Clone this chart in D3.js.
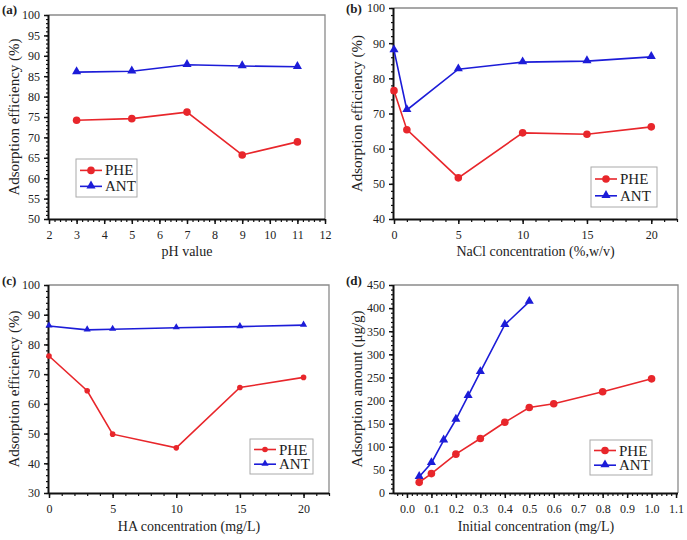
<!DOCTYPE html>
<html><head><meta charset="utf-8">
<script src="https://cdn.jsdelivr.net/npm/d3@7"></script>
<style>body{margin:0;background:#fff}svg{display:block}text{font-family:"Liberation Serif","Times New Roman",serif;fill:#222}</style>
</head><body><svg id="c" width="687" height="540"></svg>
<script>
// Panel (a): pH
const phX = [3, 5, 7, 9, 11];
const phPHE = [74.2, 74.6, 76.2, 65.7, 68.9];
const phANT = [86.0, 86.2, 87.8, 87.5, 87.3];
const phXTicks = [2,3,4,5,6,7,8,9,10,11,12];
const phYTicks = [50,55,60,65,70,75,80,85,90,95,100];
// Panel (b): NaCl
const naclX = [0, 1, 5, 10, 15, 20];
const naclPHE = [76.5, 65.4, 51.7, 64.5, 64.1, 66.2];
const naclANT = [88.0, 71.0, 82.6, 84.6, 84.9, 86.1];
const naclXTicks = [0,5,10,15,20];
const naclYTicks = [40,50,60,70,80,90,100];
// Panel (c): HA
const haX = [0, 3, 5, 10, 15, 20];
const haPHE = [76.1, 64.4, 49.8, 45.2, 65.5, 68.9];
const haANT = [86.2, 84.9, 85.1, 85.6, 86.0, 86.5];
const haXTicks = [0,5,10,15,20];
const haYTicks = [30,40,50,60,70,80,90,100];
// Panel (d): initial concentration
const icXPHE = [0.05, 0.1, 0.2, 0.3, 0.4, 0.5, 0.6, 0.8, 1.0];
const icPHE = [23, 42, 84, 118, 153, 185, 193, 219, 247];
const icXANT = [0.05, 0.1, 0.15, 0.2, 0.25, 0.3, 0.4, 0.5];
const icANT = [35, 65, 114, 159, 210, 262, 364, 414];
const icXTicks = [0,0.1,0.2,0.3,0.4,0.5,0.6,0.7,0.8,0.9,1.0,1.1];
const icYTicks = [0,50,100,150,200,250,300,350,400,450];
const seriesNames = ["PHE", "ANT"];

const RED = "#e8262b", BLUE = "#1c1cd8";
const svg = d3.select("#c");

function range(a, b, s) { const out = []; for (let v = a; v <= b + 1e-9; v += s) out.push(+v.toFixed(4)); return out; }

function panel(o) {
  const g = svg.append("g");
  const x = d3.scaleLinear().domain(o.xd).range([o.l, o.r]);
  const y = d3.scaleLinear().domain(o.yd).range([o.b, o.t]);
  g.append("path").attr("d", `M${o.l},${o.t}H${o.r}V${o.b}`).attr("fill","none").attr("stroke","#8a8a8a").attr("stroke-width",1.3);
  const xm = g.append("g").attr("transform",`translate(0,${o.b})`).call(d3.axisBottom(x).tickValues(o.xMinor).tickSize(3).tickFormat(""));
  const ym = g.append("g").attr("transform",`translate(${o.l},0)`).call(d3.axisLeft(y).tickValues(o.yMinor).tickSize(3).tickFormat(""));
  [xm, ym].forEach(a => { a.select(".domain").remove(); a.selectAll("line").attr("stroke","#111").attr("stroke-width",1.2); });
  const xa = g.append("g").attr("transform",`translate(0,${o.b})`).call(d3.axisBottom(x).tickValues(o.xTicks).tickSize(5).tickSizeOuter(0).tickPadding(6).tickFormat(o.xf || d3.format("d")));
  const ya = g.append("g").attr("transform",`translate(${o.l},0)`).call(d3.axisLeft(y).tickValues(o.yTicks).tickSize(5).tickSizeOuter(0).tickPadding(4).tickFormat(d3.format("d")));
  [xa, ya].forEach(a => {
    a.select(".domain").attr("stroke","#111").attr("stroke-width",2);
    a.selectAll("line").attr("stroke","#111").attr("stroke-width",1.5);
    a.selectAll("text").attr("font-size",12).attr("fill","#333").style("font-family","'Liberation Serif',serif");
  });
  xa.select(".domain").attr("d", `M${o.l},0.5H${o.r}`);
  ya.select(".domain").attr("d", `M-0.5,${o.b}V${o.t}`);
  g.append("text").attr("x",(o.l+o.r)/2).attr("y",o.xtY).attr("text-anchor","middle").attr("font-size",14).text(o.xt);
  g.append("text").attr("transform",`translate(${o.ytX},${(o.t+o.b)/2}) rotate(-90)`).attr("text-anchor","middle").attr("font-size",15).text(o.yt);
  g.append("text").attr("x",o.lblX).attr("y",o.lblY).attr("font-size",13).attr("font-weight","bold").text(o.lbl);
  const line = d3.line().x(d => x(d[0])).y(d => y(d[1]));
  const tri = d3.symbol().type(d3.symbolTriangle).size(o.triSize || 36);
  const a1 = o.sx[1].map((v,i)=>[v,o.sy[1][i]]);
  const a0 = o.sx[0].map((v,i)=>[v,o.sy[0][i]]);
  g.append("path").datum(a1).attr("d",line).attr("fill","none").attr("stroke",BLUE).attr("stroke-width",1.6);
  g.selectAll(".t").data(a1).join("path").attr("d",tri).attr("fill",BLUE).attr("transform",d=>`translate(${x(d[0])},${y(d[1])-0.5})`);
  g.append("path").datum(a0).attr("d",line).attr("fill","none").attr("stroke",RED).attr("stroke-width",1.6);
  g.selectAll(".c").data(a0).join("circle").attr("cx",d=>x(d[0])).attr("cy",d=>y(d[1])).attr("r",o.cr || 3.8).attr("fill",RED);
  const L = o.leg;
  g.append("rect").attr("x",L[0]).attr("y",L[1]).attr("width",L[2]).attr("height",L[3]).attr("fill","#fff").attr("stroke","#aaa").attr("stroke-width",1);
  [RED, BLUE].forEach((c, i) => {
    const yy = L[1] + L[3]*(i === 0 ? 0.3 : 0.72);
    g.append("line").attr("x1",L[0]+4).attr("x2",L[0]+26).attr("y1",yy).attr("y2",yy).attr("stroke",c).attr("stroke-width",1.6);
    if (i === 0) g.append("circle").attr("cx",L[0]+15).attr("cy",yy).attr("r",o.cr || 3.8).attr("fill",c);
    else g.append("path").attr("d",tri).attr("fill",c).attr("transform",`translate(${L[0]+15},${yy-0.5})`);
    g.append("text").attr("x",L[0]+29).attr("y",yy+5).attr("font-size",15).text(seriesNames[i]);
  });
}

panel({l:49, r:325, t:15, b:219, xd:[2,12], yd:[50,100], xTicks:phXTicks, yTicks:phYTicks,
  xMinor:range(2,12,0.2), yMinor:range(50,100,1), xt:"pH value", yt:"Adsorption efficiency (%)",
  xtY:256, ytX:19, lbl:"(a)", lblX:2, lblY:14, sx:[phX,phX], sy:[phPHE,phANT], leg:[76,159,61,38]});
panel({l:394, r:677, t:8, b:219, xd:[0,22], yd:[40,100], xTicks:naclXTicks, yTicks:naclYTicks,
  xMinor:range(0,22,1), yMinor:range(40,100,2), xt:"NaCl concentration (%,w/v)", yt:"Adsorption efficiency (%)",
  xtY:256, ytX:362, lbl:"(b)", lblX:346, lblY:13, sx:[naclX,naclX], sy:[naclPHE,naclANT], leg:[591,167,66,40]});
panel({l:49, r:329, t:285, b:493, xd:[0,22], yd:[30,100], xTicks:haXTicks, yTicks:haYTicks,
  xMinor:range(0,22,1), yMinor:range(30,100,2), xt:"HA concentration (mg/L)", yt:"Adsorption efficiency (%)",
  xtY:531, ytX:19, lbl:"(c)", lblX:2, lblY:285, sx:[haX,haX], sy:[haPHE,haANT], leg:[250,439,63,35], cr:2.8, triSize:22});
panel({l:394, r:678, t:285, b:493, xd:[-0.053,1.108], yd:[0,450], xTicks:icXTicks, yTicks:icYTicks,
  xMinor:range(-0.04,1.1,0.02), yMinor:range(0,450,10), xf:d3.format(".1f"), xt:"Initial concentration (mg/L)", yt:"Adsorption amount (\u03bcg/g)",
  xtY:531, ytX:362, lbl:"(d)", lblX:346, lblY:285, sx:[icXPHE,icXANT], sy:[icPHE,icANT], leg:[590,440,62,35]});
</script></body></html>
